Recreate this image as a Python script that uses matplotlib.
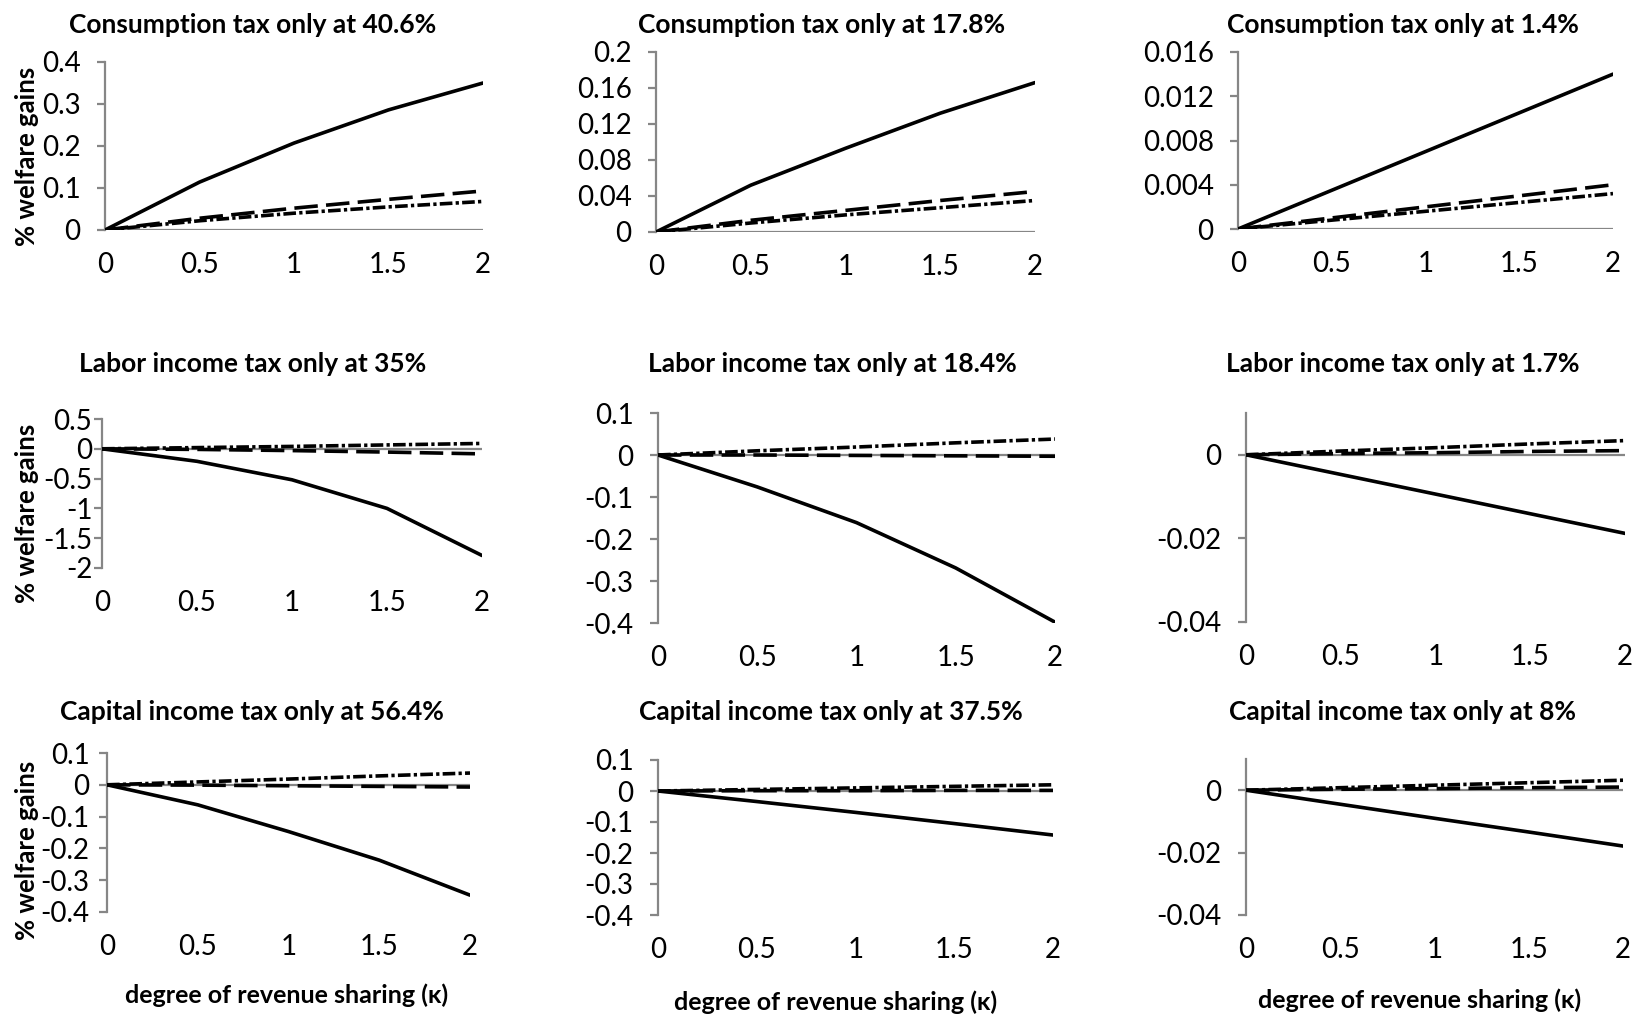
"""Welfare gains vs. degree of revenue sharing, 3x3 panels (one tax instrument each)."""

import matplotlib

matplotlib.use("Agg")
import matplotlib.pyplot as plt

plt.rcParams["font.family"] = ["Lato", "DejaVu Sans"]

W, H = 1633, 1016
KAPPA = [0, 0.5, 1, 1.5, 2]
X_TICKS = [0, 0.5, 1, 1.5, 2]
X_TICK_LABELS = ["0", "0.5", "1", "1.5", "2"]

TITLES = [
    "Consumption tax only at 40.6%", "Consumption tax only at 17.8%", "Consumption tax only at 1.4%",
    "Labor income tax only at 35%", "Labor income tax only at 18.4%", "Labor income tax only at 1.7%",
    "Capital income tax only at 56.4%", "Capital income tax only at 37.5%", "Capital income tax only at 8%",
]

# solid / long dash / dash-dot series, one list per panel
SOLID = [
    [0, 0.114, 0.207, 0.286, 0.350],
    [0, 0.052, 0.093, 0.132, 0.166],
    [0, 0.0035, 0.0070, 0.0105, 0.0140],
    [0, -0.21, -0.52, -1.00, -1.79],
    [0, -0.076, -0.161, -0.269, -0.398],
    [0, -0.0047, -0.0094, -0.0141, -0.0188],
    [0, -0.063, -0.147, -0.237, -0.347],
    [0, -0.034, -0.069, -0.105, -0.142],
    [0, -0.0045, -0.0090, -0.0134, -0.0179],
]
DASHED = [
    [0, 0.028, 0.052, 0.073, 0.093],
    [0, 0.013, 0.024, 0.035, 0.045],
    [0, 0.0010, 0.0020, 0.0030, 0.0040],
    [0, -0.010, -0.030, -0.055, -0.085],
    [0, 0.000, -0.001, -0.002, -0.003],
    [0, 0.0003, 0.0005, 0.0008, 0.0010],
    [0, -0.001, -0.003, -0.005, -0.007],
    [0, 0.001, 0.001, 0.002, 0.002],
    [0, 0.0003, 0.0005, 0.0008, 0.0010],
]
DASHDOT = [
    [0, 0.022, 0.040, 0.055, 0.068],
    [0, 0.010, 0.019, 0.027, 0.035],
    [0, 0.0008, 0.0016, 0.0024, 0.0032],
    [0, 0.020, 0.040, 0.065, 0.090],
    [0, 0.010, 0.019, 0.029, 0.038],
    [0, 0.0009, 0.0017, 0.0026, 0.0034],
    [0, 0.009, 0.018, 0.028, 0.037],
    [0, 0.005, 0.010, 0.015, 0.020],
    [0, 0.0008, 0.0016, 0.0024, 0.0032],
]

Y_LIMITS = [
    (0, 0.4), (0, 0.2), (0, 0.016),
    (-2, 0.5), (-0.4, 0.1), (-0.04, 0.01),
    (-0.4, 0.1), (-0.4, 0.1), (-0.04, 0.01),
]
Y_TICKS = [
    [0, 0.1, 0.2, 0.3, 0.4],
    [0, 0.04, 0.08, 0.12, 0.16, 0.2],
    [0, 0.004, 0.008, 0.012, 0.016],
    [-2, -1.5, -1, -0.5, 0, 0.5],
    [-0.4, -0.3, -0.2, -0.1, 0, 0.1],
    [-0.04, -0.02, 0],
    [-0.4, -0.3, -0.2, -0.1, 0, 0.1],
    [-0.4, -0.3, -0.2, -0.1, 0, 0.1],
    [-0.04, -0.02, 0],
]
Y_TICK_LABELS = [
    ["0", "0.1", "0.2", "0.3", "0.4"],
    ["0", "0.04", "0.08", "0.12", "0.16", "0.2"],
    ["0", "0.004", "0.008", "0.012", "0.016"],
    ["-2", "-1.5", "-1", "-0.5", "0", "0.5"],
    ["-0.4", "-0.3", "-0.2", "-0.1", "0", "0.1"],
    ["-0.04", "-0.02", "0"],
    ["-0.4", "-0.3", "-0.2", "-0.1", "0", "0.1"],
    ["-0.4", "-0.3", "-0.2", "-0.1", "0", "0.1"],
    ["-0.04", "-0.02", "0"],
]

YLABEL = "% welfare gains"
XLABEL = "degree of revenue sharing (\u03ba)"

# plot-area boxes in pixels: left, top, right, bottom
BOXES = [
    (105, 62, 483, 230), (656, 52, 1035, 232), (1238, 52, 1613, 229),
    (102, 419, 482, 568), (658, 413, 1055, 623), (1246, 413, 1625, 622),
    (107, 753, 470, 912), (658, 760, 1053, 915), (1246, 759, 1623, 915),
]
# gap between y tick mark and its label, in points
Y_PAD = [12, 12, 12, 1.5, 12, 12, 7, 12, 12]
TITLE_POS = [
    (253, 25), (822, 25), (1403, 25),
    (253, 364), (832, 364), (1403, 364),
    (252, 712), (831, 712), (1403, 712),
]
XLABEL_POS = [(287, 995), (836, 1002), (1420, 1000)]
YLABEL_POS = [(27, 156), (27, 513), (27, 850)]

GRAY = "#868686"


def px_rect(box):
    l, t, r, b = box
    return [l / W, 1 - b / H, (r - l) / W, (b - t) / H]


def main() -> None:
    fig = plt.figure(figsize=(W / 100, H / 100), dpi=100)

    for i in range(9):
        ax = fig.add_axes(px_rect(BOXES[i]))
        ax.plot(KAPPA, SOLID[i], color="black", lw=2.6, solid_capstyle="round", zorder=4)
        ax.plot(KAPPA, DASHED[i], color="black", lw=2.6, dashes=[6.5, 2.3], zorder=3)
        ax.plot(KAPPA, DASHDOT[i], color="black", lw=2.6, dashes=[3.5, 0.9, 0.9, 0.9], zorder=3)
        ax.axhline(0, color=GRAY, lw=1.6, zorder=2)

        ax.set_xlim(0, 2)
        ax.set_ylim(*Y_LIMITS[i])
        ax.set_xticks(X_TICKS, X_TICK_LABELS)
        ax.set_yticks(Y_TICKS[i], Y_TICK_LABELS[i])
        for side in ("top", "right", "bottom"):
            ax.spines[side].set_visible(False)
        ax.spines["left"].set_color(GRAY)
        ax.spines["left"].set_linewidth(1.6)
        ax.tick_params(axis="y", length=5.5, width=1.6, color=GRAY, labelsize=20, pad=Y_PAD[i])
        ax.tick_params(axis="x", length=0, labelsize=20, pad=16)
        ax.patch.set_visible(False)

        x, y = TITLE_POS[i]
        fig.text(x / W, 1 - y / H, TITLES[i], ha="center", va="center",
                 fontsize=19, fontweight="bold")

    for x, y in XLABEL_POS:
        fig.text(x / W, 1 - y / H, XLABEL, ha="center", va="center",
                 fontsize=18, fontweight="bold")
    for x, y in YLABEL_POS:
        fig.text(x / W, 1 - y / H, YLABEL, ha="center", va="center",
                 rotation=90, fontsize=18.5, fontweight="bold")

    fig.savefig("out.png", dpi=100)
    plt.close(fig)


if __name__ == "__main__":
    main()
